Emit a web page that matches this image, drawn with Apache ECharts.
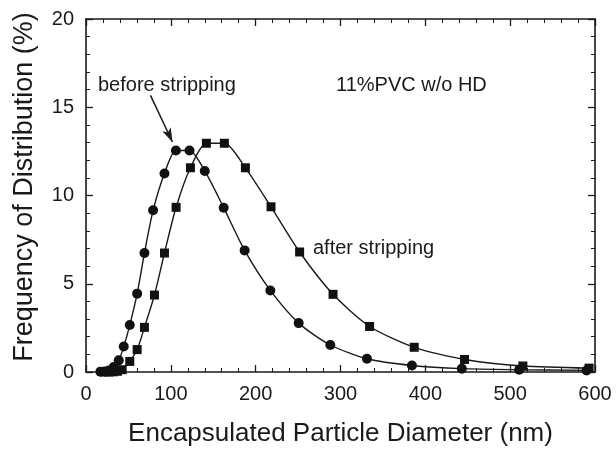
<!DOCTYPE html>
<html>
<head>
<meta charset="utf-8">
<script src="https://cdn.jsdelivr.net/npm/echarts@6/dist/echarts.min.js"></script>
<style>
  html, body { margin: 0; padding: 0; background: #fff; }
  #chart { width: 616px; height: 452px; }
</style>
</head>
<body>
<div id="chart"></div>
<script>
// Particle size distribution, 11% PVC without HD
const beforeStripping = [
  [17, 0.02], [22, 0.03], [27, 0.08], [32.7, 0.28], [38.6, 0.66], [44.5, 1.44],
  [51.6, 2.66], [60.3, 4.44], [68.9, 6.74], [79.1, 9.16], [92.5, 11.25],
  [106, 12.55], [122, 12.55], [140, 11.39], [162.3, 9.31], [187, 6.89],
  [217.3, 4.62], [250.7, 2.77], [288, 1.53], [331.2, 0.75], [384.2, 0.37],
  [443, 0.19], [510.6, 0.13], [590, 0.09]
];
const afterStripping = [
  [22, 0], [27, 0], [32, 0.01], [37, 0.04], [42.6, 0.13], [51.6, 0.6],
  [60.3, 1.27], [68.9, 2.53], [80.7, 4.36], [92.5, 6.74], [106.2, 9.33],
  [123.1, 11.57], [141.9, 12.96], [163.1, 12.96], [187.9, 11.57], [218.1, 9.36],
  [251.8, 6.8], [291.2, 4.4], [334.3, 2.58], [386.9, 1.4], [446.2, 0.71],
  [515, 0.34], [593, 0.22]
];
const xTicks = [0, 100, 200, 300, 400, 500, 600];
const yTicks = [0, 5, 10, 15, 20];
const arrowFrom = [76, 15.67];
const arrowTo = [101.9, 13.03];

const FONT = 'Liberation Sans, Arial, sans-serif';
const INK = '#1a1a1a';

const chart = echarts.init(document.getElementById('chart'), null, { renderer: 'canvas' });

function axisBase(showLabels) {
  return {
    axisLine: { show: true, onZero: false, lineStyle: { color: INK, width: 1.6 } },
    axisTick: { show: true, inside: true, length: 7, lineStyle: { color: INK, width: 1.3 } },
    minorTick: { show: true, splitNumber: 5, length: 4, lineStyle: { color: INK, width: 1 } },
    splitLine: { show: false },
    axisLabel: { show: showLabels, color: INK, fontFamily: FONT, fontSize: 20, margin: 12 }
  };
}

const option = {
  backgroundColor: '#fff',
  animation: false,
  grid: { left: 86, right: 21, top: 19, bottom: 77, containLabel: false },
  xAxis: [
    Object.assign(axisBase(true), {
      type: 'value', position: 'bottom', min: xTicks[0], max: xTicks[xTicks.length - 1], interval: 100,
      name: 'Encapsulated Particle Diameter (nm)', nameLocation: 'middle', nameGap: 49,
      nameTextStyle: { color: INK, fontFamily: FONT, fontSize: 26 }
    }),
    Object.assign(axisBase(false), {
      type: 'value', position: 'top', min: xTicks[0], max: xTicks[xTicks.length - 1], interval: 100
    })
  ],
  yAxis: [
    Object.assign(axisBase(true), {
      type: 'value', position: 'left', min: yTicks[0], max: yTicks[yTicks.length - 1], interval: 5
    }),
    Object.assign(axisBase(false), {
      type: 'value', position: 'right', min: yTicks[0], max: yTicks[yTicks.length - 1], interval: 5
    })
  ],
  series: [
    {
      name: 'before stripping', type: 'line', data: beforeStripping,
      xAxisIndex: 0, yAxisIndex: 0, smooth: 0.25,
      symbol: 'circle', symbolSize: 10,
      itemStyle: { color: '#111' },
      lineStyle: { color: INK, width: 1.4 },
      markLine: {
        silent: true, symbol: ['none', 'arrow'], symbolSize: [7, 14],
        label: { show: false },
        lineStyle: { color: INK, width: 1.5, type: 'solid' },
        data: [[{ coord: arrowFrom }, { coord: arrowTo }]]
      }
    },
    {
      name: 'after stripping', type: 'line', data: afterStripping,
      xAxisIndex: 0, yAxisIndex: 0, smooth: 0.25,
      symbol: 'rect', symbolSize: 9,
      itemStyle: { color: '#111' },
      lineStyle: { color: INK, width: 1.4 }
    }
  ],
  graphic: [
    {
      type: 'text', x: 25, y: 187, rotation: Math.PI / 2,
      style: { text: 'Frequency of Distribution (%)', fill: INK, font: '27px ' + FONT, align: 'center', verticalAlign: 'middle' }
    },
    { type: 'text', left: 98, top: 75, style: { text: 'before stripping', fill: INK, font: '20px ' + FONT } },
    { type: 'text', left: 336, top: 75, style: { text: '11%PVC w/o HD', fill: INK, font: '20px ' + FONT } },
    { type: 'text', left: 313, top: 238, style: { text: 'after stripping', fill: INK, font: '20px ' + FONT } }
  ]
};

chart.setOption(option);
</script>
</body>
</html>
